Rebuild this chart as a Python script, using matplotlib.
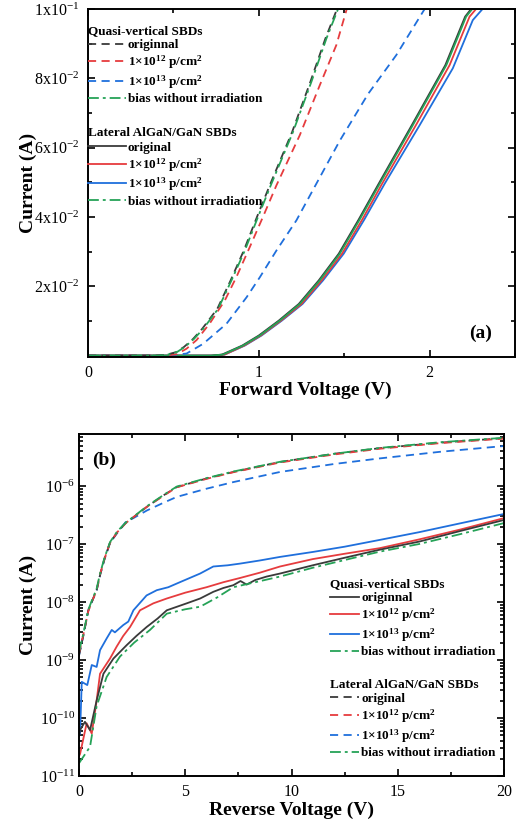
import math
import matplotlib
matplotlib.use('Agg')
import matplotlib.pyplot as plt
from matplotlib.ticker import FixedLocator, MultipleLocator, FuncFormatter, LogLocator, NullFormatter
from matplotlib.lines import Line2D

plt.rcParams['font.family'] = ['Liberation Serif', 'DejaVu Serif']
plt.rcParams['mathtext.fontset'] = 'custom'
plt.rcParams['mathtext.rm'] = 'Liberation Serif'
plt.rcParams['mathtext.it'] = 'Liberation Serif:italic'
plt.rcParams['mathtext.bf'] = 'Liberation Serif:bold'
plt.rcParams['mathtext.default'] = 'regular'

C_BLACK = '#3a3a3a'
C_RED = '#e63c3e'
C_BLUE = '#1f6fdc'
C_GREEN = '#25a257'

# ---------------- Panel (a) data: forward I-V (linear) ----------------
# Quasi-vertical SBDs (dashed)
a_qv_orig_v = [0, 0.40, 0.455, 0.515, 0.562, 0.615, 0.668, 0.757, 0.835, 0.912, 0.990, 1.068, 1.195, 1.302, 1.390, 1.458, 2.5]
a_qv_orig_i = [0, 0, 0.0002, 0.0010, 0.0025, 0.0048, 0.0077, 0.0135, 0.0217, 0.0303, 0.0401, 0.0496, 0.0645, 0.0790, 0.0915, 0.1, 0.1]
a_qv_e12_v = [0, 0.45, 0.52, 0.577, 0.636, 0.713, 0.801, 0.870, 0.947, 1.025, 1.103, 1.240, 1.357, 1.454, 1.515, 2.5]
a_qv_e12_i = [0, 0, 0.0004, 0.0020, 0.0045, 0.0093, 0.0159, 0.0228, 0.0313, 0.0401, 0.0491, 0.0636, 0.0780, 0.0896, 0.1, 0.1]
a_qv_e13_v = [0, 0.47, 0.577, 0.674, 0.811, 0.928, 1.006, 1.103, 1.220, 1.337, 1.474, 1.640, 1.805, 1.971, 2.5]
a_qv_e13_i = [0, 0, 0.0006, 0.0034, 0.0092, 0.0168, 0.0226, 0.0303, 0.0390, 0.0496, 0.0620, 0.0755, 0.0867, 0.1, 0.1]
a_qv_bias_v = [0, 0.40, 0.46, 0.52, 0.567, 0.62, 0.674, 0.762, 0.840, 0.918, 0.996, 1.074, 1.200, 1.308, 1.396, 1.464, 2.5]
a_qv_bias_i = [0, 0, 0.0002, 0.0010, 0.0025, 0.0048, 0.0077, 0.0135, 0.0217, 0.0303, 0.0401, 0.0496, 0.0645, 0.0790, 0.0915, 0.1, 0.1]
# Lateral AlGaN/GaN SBDs (solid)
a_lat_orig_v = [0, 0.72, 0.785, 0.903, 1.000, 1.117, 1.234, 1.351, 1.468, 1.584, 1.702, 1.896, 2.092, 2.208, 2.243, 2.5]
a_lat_e12_v = [0, 0.73, 0.800, 0.915, 1.012, 1.130, 1.250, 1.368, 1.487, 1.605, 1.722, 1.920, 2.117, 2.234, 2.272, 2.5]
a_lat_e13_v = [0, 0.73, 0.800, 0.918, 1.016, 1.135, 1.256, 1.376, 1.497, 1.617, 1.737, 1.942, 2.136, 2.253, 2.310, 2.5]
a_lat_bias_v = [0, 0.72, 0.790, 0.908, 1.006, 1.123, 1.240, 1.357, 1.474, 1.590, 1.708, 1.902, 2.098, 2.214, 2.250, 2.5]
a_lat_i = [0, 0, 0.0003, 0.0029, 0.0058, 0.0101, 0.0149, 0.0217, 0.0294, 0.0392, 0.0496, 0.0665, 0.0838, 0.0978, 0.1, 0.1]
a_lat_e13_i = [0, 0, 0.0003, 0.0029, 0.0058, 0.0101, 0.0149, 0.0217, 0.0294, 0.0392, 0.0496, 0.0665, 0.0829, 0.0968, 0.1, 0.1]

a_yticks = [0.02, 0.04, 0.06, 0.08, 0.10]
a_yticklabels = ['2x10$^{-2}$', '4x10$^{-2}$', '6x10$^{-2}$', '8x10$^{-2}$', '1x10$^{-1}$']

# ---------------- Panel (b) data: reverse I-V (log) ----------------
# Lateral AlGaN/GaN SBDs (dashed, upper)
b_lat_v = [0, 0.2, 0.44, 0.6, 0.83, 1.0, 1.2, 1.46, 1.8, 2.2, 2.56, 3.2, 4.0, 4.6, 6.0, 7.26, 9.46, 12.0, 14.16, 17.0, 20.0]
b_lat_orig_i = [1.2e-9, 2.6e-9, 7.2e-9, 1.0e-8, 1.6e-8, 3.0e-8, 5.5e-8, 1.05e-7, 1.6e-7, 2.3e-7, 2.9e-7, 4.4e-7, 7.0e-7, 9.6e-7, 1.35e-6, 1.75e-6, 2.6e-6, 3.6e-6, 4.5e-6, 5.6e-6, 6.7e-6]
b_lat_e12_i = [1.3e-9, 2.7e-9, 7.0e-9, 1.0e-8, 1.6e-8, 3.1e-8, 5.6e-8, 1.05e-7, 1.6e-7, 2.3e-7, 2.9e-7, 4.4e-7, 6.9e-7, 9.5e-7, 1.33e-6, 1.73e-6, 2.55e-6, 3.5e-6, 4.4e-6, 5.5e-6, 6.6e-6]
b_lat_e13_i = [1.2e-9, 2.6e-9, 7.2e-9, 1.0e-8, 1.6e-8, 3.0e-8, 5.5e-8, 1.05e-7, 1.55e-7, 2.4e-7, 2.8e-7, 3.8e-7, 5.2e-7, 6.5e-7, 9.0e-7, 1.17e-6, 1.75e-6, 2.4e-6, 3.0e-6, 3.9e-6, 4.9e-6]
b_lat_bias_i = [1.4e-9, 2.8e-9, 7.4e-9, 1.05e-8, 1.7e-8, 3.2e-8, 5.8e-8, 1.08e-7, 1.65e-7, 2.35e-7, 2.95e-7, 4.5e-7, 7.1e-7, 9.8e-7, 1.37e-6, 1.78e-6, 2.62e-6, 3.6e-6, 4.55e-6, 5.7e-6, 6.8e-6]
# Quasi-vertical SBDs (solid, lower)
b_qv_orig_v = [0, 0.05, 0.28, 0.52, 0.83, 1.15, 1.62, 2.24, 2.7, 3.18, 3.7, 4.13, 5.07, 5.7, 6.32, 6.8, 7.26, 7.6, 7.89, 8.3, 8.83, 9.46, 11.0, 12.5, 14.16, 16.0, 18.0, 20.0]
b_qv_orig_i = [5.0e-11, 6.2e-11, 8.6e-11, 6.2e-11, 2.0e-10, 5.8e-10, 1.06e-9, 1.8e-9, 2.6e-9, 3.7e-9, 5.2e-9, 7.2e-9, 9.5e-9, 1.15e-8, 1.5e-8, 1.75e-8, 1.95e-8, 2.3e-8, 2.0e-8, 2.4e-8, 2.75e-8, 3.1e-8, 4.3e-8, 5.8e-8, 8.0e-8, 1.1e-7, 1.7e-7, 2.6e-7]
b_qv_e12_v = [0, 0.05, 0.36, 0.6, 0.83, 0.99, 1.46, 1.77, 2.08, 2.4, 2.87, 3.5, 4.13, 5.0, 6.0, 6.8, 7.58, 8.5, 9.46, 11.0, 12.5, 14.16, 16.0, 18.0, 20.0]
b_qv_e12_i = [2.2e-11, 2.4e-11, 8.1e-11, 5.4e-11, 2.0e-10, 5.8e-10, 1.06e-9, 1.7e-9, 2.6e-9, 3.7e-9, 7.2e-9, 9.5e-9, 1.15e-8, 1.45e-8, 1.8e-8, 2.2e-8, 2.6e-8, 3.2e-8, 4.1e-8, 5.5e-8, 6.8e-8, 8.5e-8, 1.2e-7, 1.8e-7, 2.8e-7]
b_qv_e13_v = [0, 0.05, 0.13, 0.39, 0.6, 0.83, 0.99, 1.3, 1.54, 1.69, 2.08, 2.32, 2.56, 3.18, 3.66, 4.2, 4.75, 5.7, 6.32, 7.0, 7.58, 8.5, 9.46, 11.0, 12.5, 14.16, 16.0, 18.0, 20.0]
b_qv_e13_i = [5.0e-11, 5.5e-11, 4.2e-10, 3.7e-10, 8.2e-10, 7.6e-10, 1.48e-9, 2.35e-9, 3.3e-9, 3.0e-9, 4.0e-9, 4.6e-9, 7.2e-9, 1.3e-8, 1.6e-8, 1.8e-8, 2.2e-8, 3.1e-8, 4.1e-8, 4.3e-8, 4.6e-8, 5.2e-8, 6.0e-8, 7.3e-8, 9.0e-8, 1.18e-7, 1.6e-7, 2.3e-7, 3.3e-7]
b_qv_bias_v = [0, 0.52, 0.83, 1.3, 1.93, 2.6, 3.34, 4.13, 5.0, 5.7, 6.5, 7.26, 8.3, 9.46, 11.0, 12.5, 14.16, 16.0, 18.0, 20.0]
b_qv_bias_i = [1.66e-11, 3.2e-11, 1.6e-10, 5.1e-10, 1.15e-9, 2.0e-9, 3.3e-9, 6.3e-9, 7.5e-9, 8.3e-9, 1.2e-8, 1.8e-8, 2.2e-8, 2.75e-8, 3.9e-8, 5.3e-8, 7.4e-8, 1.0e-7, 1.5e-7, 2.3e-7]

labels_qv = ['originnal', '1×10$^{\\mathbf{12}}$ p/cm$^{\\mathbf{2}}$', '1×10$^{\\mathbf{13}}$ p/cm$^{\\mathbf{2}}$', 'bias without irradiation']
labels_lat = ['original', '1×10$^{\\mathbf{12}}$ p/cm$^{\\mathbf{2}}$', '1×10$^{\\mathbf{13}}$ p/cm$^{\\mathbf{2}}$', 'bias without irradiation']

LW = 1.3
DASH = (4.5, 3.0)
DASHDOT = (6.0, 2.2, 1.6, 2.2)

fig = plt.figure(figsize=(5.28, 8.27), dpi=100)
ax1 = fig.add_axes([88/528, 1-357/827, 427/528, 348/827])
ax2 = fig.add_axes([79/528, 1-776/827, 425/528, 342/827])


def dashed(ax, x, y, c):
    ax.plot(x, y, color=c, lw=LW, linestyle=(0, DASH))


def solid(ax, x, y, c):
    ax.plot(x, y, color=c, lw=LW, linestyle='-')


def dashdot(ax, x, y, c):
    ax.plot(x, y, color=c, lw=LW, linestyle=(0, DASHDOT))


def h(c, ls):
    if ls == 'dash':
        return Line2D([], [], color=c, lw=LW, linestyle=(0, DASH))
    if ls == 'dashdot':
        return Line2D([], [], color=c, lw=LW, linestyle=(0, DASHDOT))
    return Line2D([], [], color=c, lw=LW, linestyle='-')


def make_legend(ax, handles, labels, title, anchor, hl):
    return ax.legend(handles, labels, title=title, loc='upper left', bbox_to_anchor=anchor,
                     frameon=False, prop={'weight': 'bold', 'size': 9.5},
                     title_fontproperties={'weight': 'bold', 'size': 9.5}, alignment='left',
                     borderaxespad=0, borderpad=0, handlelength=hl, handletextpad=0.15,
                     labelspacing=0.17)


# ---- Panel (a)
solid(ax1, a_lat_e13_v, a_lat_e13_i, C_BLUE)
solid(ax1, a_lat_e12_v, a_lat_i, C_RED)
solid(ax1, a_lat_orig_v, a_lat_i, C_BLACK)
solid(ax1, a_lat_bias_v, a_lat_i, C_GREEN)
dashed(ax1, a_qv_e13_v, a_qv_e13_i, C_BLUE)
dashed(ax1, a_qv_e12_v, a_qv_e12_i, C_RED)
dashed(ax1, a_qv_orig_v, a_qv_orig_i, C_BLACK)
dashdot(ax1, a_qv_bias_v, a_qv_bias_i, C_GREEN)

ax1.set_xlim(0, 2.5)
ax1.set_ylim(-0.0004, 0.1)
ax1.xaxis.set_major_locator(FixedLocator([0, 1, 2]))
ax1.xaxis.set_minor_locator(MultipleLocator(0.5))
ax1.yaxis.set_major_locator(FixedLocator(a_yticks))
ax1.yaxis.set_major_formatter(FuncFormatter(
    lambda v, p: a_yticklabels[a_yticks.index(round(v, 2))] if round(v, 2) in a_yticks else ''))
ax1.yaxis.set_minor_locator(FixedLocator([0.01, 0.03, 0.05, 0.07, 0.09]))
ax1.set_xlabel('Forward Voltage (V)', fontsize=14, fontweight='bold')
ax1.set_ylabel('Current (A)', fontsize=14, fontweight='bold')
ax1.xaxis.set_label_coords(0.51, -0.072)
ax1.yaxis.set_label_coords(-0.119, 0.5)
ax1.text(0.92, 0.069, '(a)', transform=ax1.transAxes, fontsize=14, fontweight='bold', ha='center', va='center')

leg_a1 = make_legend(ax1, [h(C_BLACK, 'dash'), h(C_RED, 'dash'), h(C_BLUE, 'dash'), h(C_GREEN, 'dashdot')],
                     labels_qv, 'Quasi-vertical SBDs', (0.0, 0.955), 2.85)
ax1.add_artist(leg_a1)
make_legend(ax1, [h(C_BLACK, 'solid'), h(C_RED, 'solid'), h(C_BLUE, 'solid'), h(C_GREEN, 'dashdot')],
            labels_lat, 'Lateral AlGaN/GaN SBDs', (0.0, 0.660), 2.85)

# ---- Panel (b)
dashed(ax2, b_lat_v, b_lat_e13_i, C_BLUE)
dashed(ax2, b_lat_v, b_lat_orig_i, C_BLACK)
dashed(ax2, b_lat_v, b_lat_e12_i, C_RED)
dashdot(ax2, b_lat_v, b_lat_bias_i, C_GREEN)
solid(ax2, b_qv_e13_v, b_qv_e13_i, C_BLUE)
solid(ax2, b_qv_e12_v, b_qv_e12_i, C_RED)
solid(ax2, b_qv_orig_v, b_qv_orig_i, C_BLACK)
dashdot(ax2, b_qv_bias_v, b_qv_bias_i, C_GREEN)

ax2.set_yscale('log')
ax2.set_xlim(0, 20)
ax2.set_ylim(1e-11, 7.9e-6)
ax2.xaxis.set_major_locator(MultipleLocator(5))
ax2.xaxis.set_minor_locator(MultipleLocator(2.5))
ax2.yaxis.set_major_locator(FixedLocator([1e-11, 1e-10, 1e-9, 1e-8, 1e-7, 1e-6]))
ax2.yaxis.set_minor_locator(LogLocator(base=10, subs=[2, 3, 4, 5, 6, 7, 8, 9], numticks=20))
ax2.yaxis.set_minor_formatter(NullFormatter())
ax2.yaxis.set_major_formatter(FuncFormatter(lambda v, p: '10$^{%d}$' % round(math.log10(v))))
ax2.set_xlabel('Reverse Voltage (V)', fontsize=14, fontweight='bold')
ax2.set_ylabel('Current (A)', fontsize=14, fontweight='bold')
ax2.xaxis.set_label_coords(0.5, -0.076)
ax2.yaxis.set_label_coords(-0.099, 0.5)
ax2.text(0.06, 0.924, '(b)', transform=ax2.transAxes, fontsize=14, fontweight='bold', ha='center', va='center')

leg_b1 = make_legend(ax2, [h(C_BLACK, 'solid'), h(C_RED, 'solid'), h(C_BLUE, 'solid'), h(C_GREEN, 'dashdot')],
                     labels_qv, 'Quasi-vertical SBDs', (0.59, 0.58), 2.25)
ax2.add_artist(leg_b1)
make_legend(ax2, [h(C_BLACK, 'dash'), h(C_RED, 'dash'), h(C_BLUE, 'dash'), h(C_GREEN, 'dashdot')],
            labels_lat, 'Lateral AlGaN/GaN SBDs', (0.59, 0.285), 2.25)

for ax in (ax1, ax2):
    for s in ax.spines.values():
        s.set_linewidth(1.4)
    ax.tick_params(which='both', direction='in', top=True, right=True, labelsize=11.5, width=1.2)
    ax.tick_params(which='major', length=5, pad=6)
    ax.tick_params(which='minor', length=3)
ax2.tick_params(axis='y', which='major', pad=3)

fig.savefig('out.png', dpi=100)
